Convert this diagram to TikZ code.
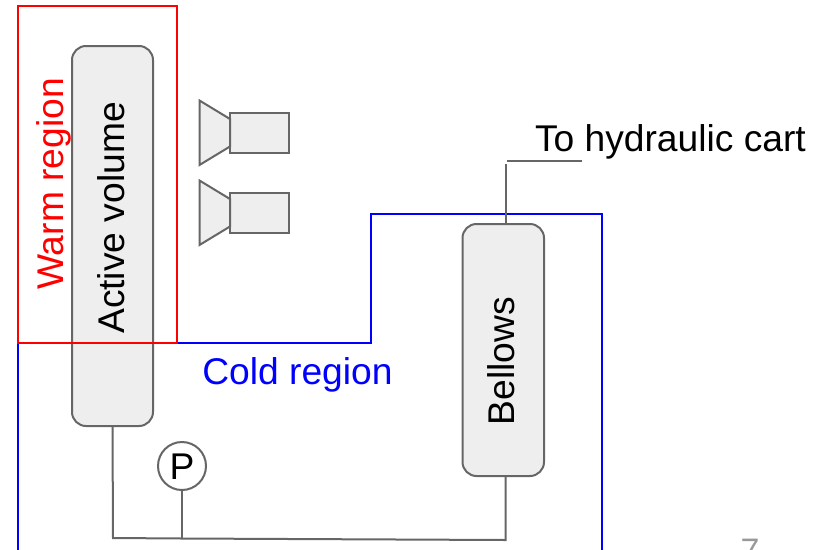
\documentclass[tikz,border=0pt]{standalone}
\usepackage{fontspec}
\setmainfont{Liberation Sans}
\definecolor{edgegrey}{HTML}{666666}
\definecolor{boxfill}{HTML}{EEEEEE}
\tikzset{
  vessel/.style={draw=edgegrey,fill=boxfill,line width=2pt,rounded corners=14pt,inner sep=0pt,outer sep=0pt},
  pipe/.style={draw=edgegrey,line width=2pt},
  campart/.style={draw=edgegrey,fill=boxfill,line width=2pt,line join=miter},
  lab/.style={font=\fontsize{37.2pt}{40pt}\selectfont,inner sep=0pt,outer sep=0pt},
  region/.style={line width=2pt}
}
\begin{document}
\begin{tikzpicture}[x=1pt,y=-1pt]
\useasboundingbox (0,0) rectangle (813,549);
\clip (0,0) rectangle (813,549);
% cold region
\coordinate (c1) at (18,552);
\coordinate (c2) at (18,343);
\coordinate (c3) at (371,343);
\coordinate (c4) at (371,214);
\coordinate (c5) at (601.5,214);
\coordinate (c6) at (601.5,552);
\draw[region,blue] (c1) -- (c2) -- (c3) -- (c4) -- (c5) -- (c6);
% leader
\coordinate (l1) at (505.5,164);
\coordinate (l2) at (507,161);
\coordinate (l3) at (582,161);
\coordinate (j1) at (113,538);
\coordinate (j2) at (182,538.5);
\coordinate (j3) at (505.5,540);
% vessels
\node[vessel,minimum width=81pt,minimum height=380pt] (active) at (112.5,236) {};
\node[vessel,minimum width=81.5pt,minimum height=252pt] (bellows) at (503.25,350) {};
\node[draw=edgegrey,fill=white,line width=2pt,circle,minimum size=48pt,inner sep=0pt,outer sep=0pt] (gauge) at (182,466) {};
\node[lab,anchor=base] (plabel) at (182,479) {P};
% connectors
\draw[pipe] (active.south) -- (j1) -- (j2) -- (j3) -- (j3 |- bellows.south);
\draw[pipe] (gauge.south) -- (j2);
\draw[pipe] (l1) -- (l1 |- bellows.north);
\draw[pipe] (l2) -- (l3);
% cameras
\node[campart,minimum width=58.5pt,minimum height=40pt,inner sep=0pt,outer sep=0pt] (cam1) at (259.25,133) {};
\node[campart,minimum width=58.5pt,minimum height=40pt,inner sep=0pt,outer sep=0pt] (cam2) at (259.25,213) {};
\draw[campart] (199.5,100.5) -- (230,119) -- (230,146.5) -- (199.5,165) -- cycle;
\draw[campart] (199.5,180.5) -- (230,199) -- (230,226.5) -- (199.5,245) -- cycle;
% warm region
\node[draw=red,line width=2pt,minimum width=159.5pt,minimum height=337.5pt,inner sep=0pt,outer sep=0pt] (warm) at (97.25,174.25) {};
% labels
\node[lab,rotate=90,anchor=base,text=red] (warmlabel) at (63,184) {Warm region};
\node[lab,rotate=90,anchor=base] (activelabel) at (124.5,218) {Active volume};
\node[lab,rotate=90,anchor=base] (bellowslabel) at (514.5,361) {Bellows};
\node[lab,anchor=base,text=blue] (coldlabel) at (297.5,384) {Cold region};
\node[lab,anchor=base west] (cart) at (535,151.5) {To hydraulic cart};
\node[anchor=base,inner sep=0pt,text=black!40,font=\fontsize{34pt}{36pt}\selectfont] (pagenum) at (750,562) {7};
\end{tikzpicture}
\end{document}
